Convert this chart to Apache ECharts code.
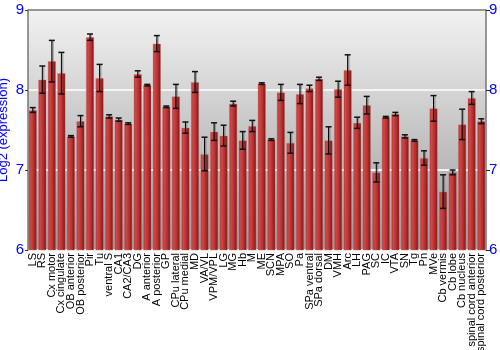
<!DOCTYPE html>
<html><head><meta charset="utf-8">
<script src="https://cdn.jsdelivr.net/npm/echarts@6/dist/echarts.min.js"></script>
<style>html,body{margin:0;padding:0;background:#fff}#c{width:500px;height:350px}</style>
</head><body><div id="c"></div>
<script>
var categories = ["LS","RS","Cx motor","Cx cingulate","OB anterior","OB posterior","Pir","Tu","ventral S","CA1","CA2/CA3","DG","A anterior","A posterior","GP","CPu lateral","CPu medial","MD","VA/VL","VPM/VPL","LG","MG","Hb","M","ME","SCN","MPA","SO","Pa","SPa ventral","SPa dorsal","DM","VMH","Arc","LH","PAG","SC","IC","VTA","SN","Tg","Pn","MVe","Cb vermis","Cb lobe","Cb nucleus","spinal cord anterior","spinal cord posterior"];
var values = [7.75,8.13,8.36,8.21,7.42,7.61,8.66,8.15,7.67,7.63,7.58,8.20,8.06,8.58,7.79,7.92,7.53,8.10,7.20,7.48,7.43,7.83,7.37,7.55,8.08,7.38,7.97,7.34,7.95,8.02,8.14,7.37,8.01,8.25,7.59,7.81,6.97,7.66,7.70,7.42,7.37,7.15,7.77,6.73,6.97,7.57,7.90,7.61];
var errors = [0.03,0.17,0.26,0.26,0.01,0.07,0.04,0.17,0.02,0.02,0.01,0.04,0.01,0.10,0.01,0.15,0.07,0.13,0.21,0.11,0.13,0.03,0.11,0.07,0.01,0.01,0.10,0.13,0.12,0.04,0.02,0.17,0.10,0.19,0.07,0.11,0.12,0.01,0.02,0.02,0.01,0.09,0.16,0.21,0.03,0.19,0.08,0.03];
var yTicks = [6,7,8,9];

var errData = values.map(function(v,i){return [i, v-errors[i], v+errors[i]];});
var chart = echarts.init(document.getElementById('c'), null, {renderer:'canvas'});
var blue = '#0000ff';
chart.setOption({
  animation:false,
  grid:{left:28,right:14,top:10,bottom:100,show:true,borderWidth:0,containLabel:false,outerBoundsMode:'none',
    backgroundColor:{type:'linear',x:0,y:0,x2:0,y2:1,colorStops:[{offset:0,color:'#f2f2f2'},{offset:1,color:'#9a9a9a'}]}},
  xAxis:{type:'category',data:categories,
    axisLine:{show:false},axisTick:{show:false},
    axisLabel:{interval:0,rotate:90,fontFamily:'Liberation Sans',fontSize:11,color:'#000',margin:3}},
  yAxis:[{type:'value',min:yTicks[0],max:yTicks[yTicks.length-1],interval:1,
    name:'Log2 (expression)',nameLocation:'middle',nameGap:18,nameMoveOverlap:false,
    nameTextStyle:{color:blue,fontFamily:'Liberation Sans',fontSize:13},
    axisLine:{show:true,lineStyle:{color:'#777',width:1.5}},
    axisTick:{show:true,length:3,lineStyle:{color:'#333'}},
    axisLabel:{color:blue,fontFamily:'Liberation Sans',fontSize:15,margin:4},
    splitLine:{show:true,lineStyle:{color:'#f4f4f4',width:2}}},
   {type:'value',min:yTicks[0],max:yTicks[yTicks.length-1],interval:1,position:'right',
    axisLine:{show:true,lineStyle:{color:'#777',width:1.5}},
    axisTick:{show:true,length:4,lineStyle:{color:'#222'}},
    axisLabel:{color:blue,fontFamily:'Liberation Sans',fontSize:15,margin:3},
    splitLine:{show:false}}],
  series:[{type:'bar',data:values,barWidth:'86%',
    itemStyle:{color:{type:'linear',x:0,y:0,x2:1,y2:0,colorStops:[
      {offset:0,color:'#b02e2e'},{offset:0.25,color:'#cf4646'},{offset:0.6,color:'#b83030'},{offset:0.85,color:'#921c1c'},{offset:1,color:'#6a0e0e'}]},
      borderColor:'rgba(200,120,120,0.45)',borderWidth:0.8}},
   {type:'custom',data:errData,z:5,
    renderItem:function(params,api){
      var x=api.value(0);
      var lo=api.coord([x,api.value(1)]);
      var hi=api.coord([x,api.value(2)]);
      var cx=lo[0], w=3;
      var shadow='rgba(60,60,60,0.35)';
      return {type:'group',children:[
        {type:'line',shape:{x1:cx+1,y1:hi[1],x2:cx+1,y2:lo[1]},style:{stroke:shadow,lineWidth:2}},
        {type:'line',shape:{x1:cx,y1:hi[1],x2:cx,y2:lo[1]},style:{stroke:'#000',lineWidth:1}},
        {type:'line',shape:{x1:cx-w,y1:hi[1],x2:cx+w,y2:hi[1]},style:{stroke:'#111',lineWidth:1.5}},
        {type:'line',shape:{x1:cx-w,y1:lo[1],x2:cx+w,y2:lo[1]},style:{stroke:'#111',lineWidth:1.5}}
      ]};
    }}],
  graphic:[{type:'line',shape:{x1:28,y1:10,x2:486,y2:10},style:{stroke:'#777',lineWidth:1.5},z:10}]
});
</script></body></html>
